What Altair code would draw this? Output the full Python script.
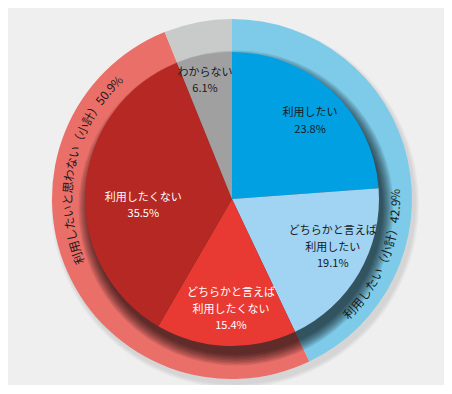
import math
import altair as alt
import pandas as pd

# ---- data ----
inner_labels = ["利用したい", "どちらかと言えば\n利用したい", "どちらかと言えば\n利用したくない",
                "利用したくない", "わからない"]
inner_values = [23.8, 19.1, 15.4, 35.5, 6.1]
inner_colors = ["#00a0e3", "#a0d4f2", "#e83a33", "#b52823", "#a0a0a0"]
inner_text_colors = ["#1a1a1a", "#1a1a1a", "#ffffff", "#ffffff", "#1a1a1a"]

outer_labels = ["利用したい（小計）", "利用したいと思わない（小計）", "わからない"]
outer_values = [42.9, 50.9, 6.1]
outer_colors = ["#7ecbe9", "#ea6f69", "#c9caca"]

# ---- layout ----
TOTAL = sum(inner_values)
R_OUT = 180
R_IN = 147
R_RING_TEXT = 164
FONT = "Noto Sans CJK JP"
FS_IN = 11
LH = 16.5
FS_RING = 12
inner_label_radius = [110, 112, 111, 89, 121]
inner_label_dtheta = [2.3, -4.3, -1.8, -8.6, -1.9]  # degrees
ring_label_center = [111.5, 282.0, None]  # degrees clockwise from top
ring_label_dir = [-1, 1, 0]

theta_scale = alt.Scale(domain=[0, TOTAL], range=[0, 2 * math.pi])

inner_df = pd.DataFrame({
    "idx": list(range(len(inner_values))),
    "v": inner_values,
    "color": inner_colors,
})
outer_df = pd.DataFrame({
    "idx": list(range(len(outer_values))),
    "v": outer_values,
    "color": outer_colors,
})

# inner label positions
rows = []
cum = 0.0
for i, (lab, v) in enumerate(zip(inner_labels, inner_values)):
    mid = (cum + v / 2) / TOTAL * 360 + inner_label_dtheta[i]
    cum += v
    txt = f"{lab}\n{v}%"
    rows.append({"t": mid / 360 * TOTAL, "txt": txt, "n": txt.count("\n") + 1,
                 "tc": inner_text_colors[i], "r": inner_label_radius[i]})
inner_lab_df = pd.DataFrame(rows)


def adv(c, fs):
    if ord(c) > 0x2000:
        return fs
    if c == ".":
        return 0.3 * fs
    if c == "%":
        return 0.8 * fs
    return 0.56 * fs


ring_rows = []
for lab, v, cen, d in zip(outer_labels, outer_values, ring_label_center, ring_label_dir):
    if cen is None:
        continue
    s = f"{lab}{v}%"
    widths = [adv(c, FS_RING) for c in s]
    W = sum(widths)
    pos = 0.0
    for c, w in zip(s, widths):
        off = pos + w / 2 - W / 2
        pos += w
        th = cen + d * math.degrees(off / R_RING_TEXT)
        rot = th if d > 0 else th + 180
        ring_rows.append({"t": (th % 360) / 360 * TOTAL, "ch": c, "rot": rot % 360})
ring_df = pd.DataFrame(ring_rows)

full_df = pd.DataFrame({"v": [TOTAL]})

layers = []
# faint halo behind outer ring
for k in range(3):
    layers.append(alt.Chart(full_df).mark_arc(radius=R_OUT + 1 + 1.5 * k, color="black",
                                              opacity=0.035, xOffset=3, yOffset=5)
                  .encode(theta=alt.Theta("v:Q", scale=theta_scale, stack=True)))
# outer ring
layers.append(alt.Chart(outer_df).mark_arc(radius=R_OUT, strokeWidth=0).encode(
    theta=alt.Theta("v:Q", scale=theta_scale, stack=True),
    color=alt.Color("color:N", scale=None),
    order=alt.Order("idx:Q"),
))
# shadow of inner pie
for k in range(8):
    layers.append(alt.Chart(full_df).mark_arc(radius=R_IN + 1.5 * k, color="black",
                                              opacity=0.1, xOffset=4, yOffset=9)
                  .encode(theta=alt.Theta("v:Q", scale=theta_scale, stack=True)))
# inner pie
layers.append(alt.Chart(inner_df).mark_arc(radius=R_IN, strokeWidth=0).encode(
    theta=alt.Theta("v:Q", scale=theta_scale, stack=True),
    color=alt.Color("color:N", scale=None),
    order=alt.Order("idx:Q"),
))
# inner labels (one layer per line count so the block is centred)
for n in sorted(inner_lab_df["n"].unique()):
    sub = inner_lab_df[inner_lab_df["n"] == n]
    layers.append(alt.Chart(sub).mark_text(
        font=FONT, fontSize=FS_IN, lineBreak="\n", lineHeight=LH,
        align="center", baseline="middle", dy=-(int(n) - 1) * LH / 2).encode(
        theta=alt.Theta("t:Q", scale=theta_scale, stack=None),
        radius=alt.Radius("r:Q", scale=None),
        text="txt:N",
        color=alt.Color("tc:N", scale=None),
    ))
# ring labels, char by char along the arc
layers.append(alt.Chart(ring_df).mark_text(
    font=FONT, fontSize=FS_RING, color="#1a1a1a",
    align="center", baseline="middle").encode(
    theta=alt.Theta("t:Q", scale=theta_scale, stack=None),
    radius=alt.value(R_RING_TEXT),
    text="ch:N",
    angle=alt.Angle("rot:Q", scale=None),
))

chart = alt.layer(*layers).properties(
    width=424, height=372,
    autosize=alt.AutoSizeParams(type="none"),
    padding={"left": 12, "top": 5, "right": 0, "bottom": 0},
    background="#efefef",
).configure_view(stroke=None)

chart.save("out.html", embed_options={"renderer": "svg", "actions": False})
